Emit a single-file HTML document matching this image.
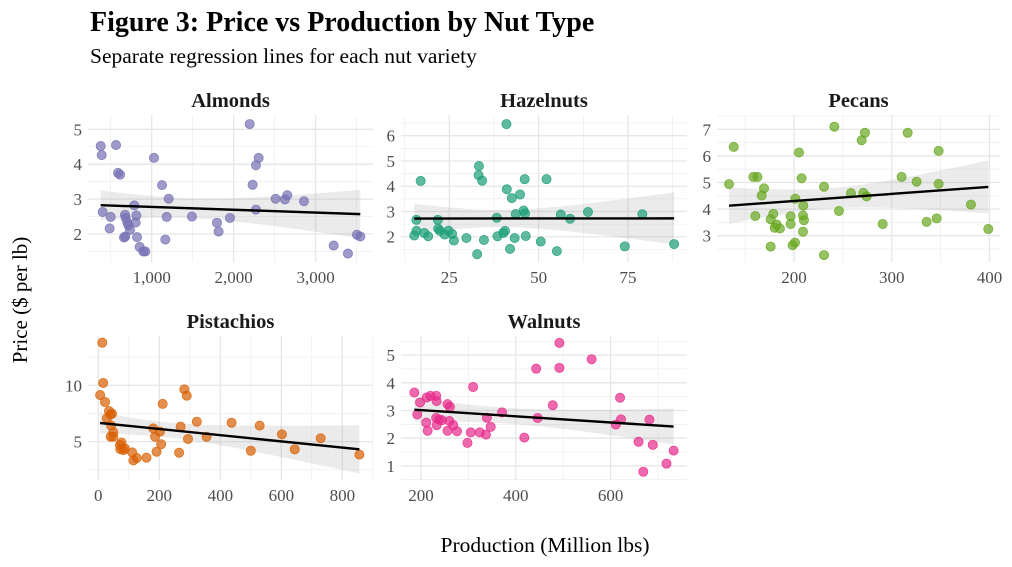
<!DOCTYPE html>
<html><head><meta charset="utf-8"><style>
html,body{margin:0;padding:0;background:#fff;}
svg{display:block;font-family:"Liberation Serif",serif;}
</style></head><body>
<svg id="chart" width="1012" height="567" viewBox="0 0 1012 567">
<text x="90" y="31" font-size="28" font-weight="bold" fill="#000">Figure 3: Price vs Production by Nut Type</text>
<text x="90" y="63" font-size="21.5" fill="#000">Separate regression lines for each nut variety</text>
<text transform="translate(27,300) rotate(-90)" text-anchor="middle" font-size="21" fill="#000">Price ($ per lb)</text>
<text x="545" y="552" text-anchor="middle" font-size="21.5" fill="#000">Production (Million lbs)</text>
</svg>
<script>
const almondsX=[378,390,565,589,614,402,500,487,674,683,703,716,735,662,678,788,813,805,821,853,898,922,1028,1126,1207,1183,1166,1491,1796,1816,1955,2195,2305,2272,2231,2272,2512,2626,2654,2858,3220,3394,3504,3545];
const almondsY=[4.52,4.26,4.55,3.75,3.70,2.63,2.49,2.16,2.55,2.46,2.33,2.25,2.12,1.90,1.93,2.82,2.53,2.33,1.91,1.63,1.50,1.50,4.18,3.40,3.01,2.49,1.84,2.50,2.32,2.07,2.46,5.15,4.18,3.97,3.41,2.70,3.01,2.99,3.11,2.94,1.67,1.44,1.98,1.93];
const hazelX=[15.8,17.0,15.8,15.2,18.0,19.1,21.8,21.9,22.4,23.7,24.8,25.8,26.3,29.8,32.8,33.3,33.2,34.2,34.7,38.3,38.5,40.1,40.6,41.0,41.1,42.0,42.5,43.3,43.6,44.8,45.8,46.2,46.1,46.4,50.6,52.2,55.1,56.2,58.8,63.8,74.1,79.0,87.9];
const hazelY=[2.67,4.21,2.23,2.05,2.15,2.02,2.67,2.32,2.23,2.09,2.24,2.11,1.85,1.95,1.31,4.80,4.44,4.22,1.87,2.75,2.02,2.15,2.23,6.46,3.88,1.52,3.53,1.95,2.90,3.67,3.04,2.92,4.28,2.03,1.81,4.28,1.43,2.88,2.71,2.98,1.62,2.89,1.71];
const pecansX=[133.5,138.3,158.4,162.5,169.3,166.9,160.4,176.1,176.1,178.8,180.2,182.2,185.6,196.5,196.5,198.6,201.0,201.3,205.1,207.8,209.5,209.2,210.2,209.2,230.7,230.7,241.3,246.0,258.3,269.2,272.6,270.9,274.3,290.7,310.1,316.3,325.5,335.7,346.0,348.0,348.0,381.1,398.8];
const pecansY=[4.94,6.34,5.21,5.21,4.78,4.51,3.74,2.59,3.62,3.82,3.30,3.42,3.27,3.73,3.44,2.64,2.74,4.39,6.13,5.16,4.13,3.76,3.58,3.15,4.84,2.27,7.10,3.93,4.60,6.59,6.87,4.61,4.48,3.44,5.21,6.87,5.03,3.52,3.65,6.19,4.95,4.17,3.25];
const pistX=[13,16,6,22,35,40,28,45,42,49,40.5,49,71,76,72,82,87,111,115,126,158,180,186,191,202,206,211,265,270,282,290,294,323,355,437,500,529,602,644,729,856];
const pistY=[13.78,10.20,9.14,8.52,7.72,7.42,7.06,7.48,6.42,5.83,5.44,5.44,4.70,4.93,4.34,4.25,4.40,4.05,3.34,3.55,3.58,6.18,5.44,4.11,5.89,4.77,8.35,4.02,6.33,9.64,9.08,5.24,6.77,5.44,6.68,4.19,6.42,5.65,4.32,5.30,3.85];
const walnutX=[186,192,198,211,214,212,220,232,233,232,233,238,244,256,261,260,256,268,276,298,305,310,324,337,339,347,371,418,443,446,478,492,492,560,611,620,622,659,669,682,689,718,733];
const walnutY=[3.65,2.86,3.29,2.56,2.27,3.47,3.53,3.53,3.34,2.73,2.47,2.67,2.65,3.23,3.13,2.62,2.27,2.47,2.25,1.83,2.21,3.85,2.21,2.13,2.74,2.41,2.93,2.02,4.51,2.73,3.19,5.44,4.54,4.85,2.49,3.46,2.68,1.87,0.79,2.67,1.76,1.08,1.55];

const almondsXTicks=[1000,2000,3000],almondsXLabels=["1,000","2,000","3,000"],almondsYTicks=[2,3,4,5];
const hazelXTicks=[25,50,75],hazelYTicks=[2,3,4,5,6];
const pecansXTicks=[200,300,400],pecansYTicks=[3,4,5,6,7];
const pistXTicks=[0,200,400,600,800],pistYTicks=[5,10];
const walnutXTicks=[200,400,600],walnutYTicks=[1,2,3,4,5];

const NS="http://www.w3.org/2000/svg";
const svg=document.getElementById('chart');
function mk(tag,attrs,parent){const e=document.createElementNS(NS,tag);for(const k in attrs)e.setAttribute(k,attrs[k]);(parent||svg).appendChild(e);return e;}

const panels=[
 {name:'almonds',title:'Almonds',x:almondsX,y:almondsY,xt:almondsXTicks,xl:almondsXLabels,yt:almondsYTicks,px:[88,373],py:[115,262],dx:[223,3700],dy:[1.198,5.41],color:'#7570b3'},
 {name:'hazelnuts',title:'Hazelnuts',x:hazelX,y:hazelY,xt:hazelXTicks,yt:hazelYTicks,px:[401,687],py:[115,262],dx:[11.5,91.5],dy:[1.0,6.82],color:'#1b9e77'},
 {name:'pecans',title:'Pecans',x:pecansX,y:pecansY,xt:pecansXTicks,yt:pecansYTicks,px:[717,1000],py:[115,262],dx:[121.2,410.8],dy:[2.01,7.54],color:'#66a61e'},
 {name:'pistachios',title:'Pistachios',x:pistX,y:pistY,xt:pistXTicks,yt:pistYTicks,px:[88,373],py:[336,480],dx:[-33.8,900.6],dy:[1.6,14.37],color:'#d95f02'},
 {name:'walnuts',title:'Walnuts',x:walnutX,y:walnutY,xt:walnutXTicks,yt:walnutYTicks,px:[401,687],py:[336,480],dx:[157.8,761.2],dy:[0.49,5.69],color:'#e7298a'}
];

panels.forEach(p=>{
 const g=mk('g',{});
 
 
 const sx=v=>p.px[0]+(v-p.dx[0])/(p.dx[1]-p.dx[0])*(p.px[1]-p.px[0]);
 const sy=v=>p.py[1]-(v-p.dy[0])/(p.dy[1]-p.dy[0])*(p.py[1]-p.py[0]);
 const xs=p.xt[1]-p.xt[0], ys=p.yt.length>1?p.yt[1]-p.yt[0]:1;
 for(let v=p.xt[0]-xs/2;v<=p.dx[1];v+=xs){ if(v<p.dx[0])continue;
  const l=mk('line',{x1:sx(v),x2:sx(v),y1:p.py[0],y2:p.py[1],stroke:'#ebebeb','stroke-width':0.6},g);
  }
 for(let v=p.yt[0]-ys/2;v<=p.dy[1];v+=ys){ if(v<p.dy[0])continue;
  const l=mk('line',{x1:p.px[0],x2:p.px[1],y1:sy(v),y2:sy(v),stroke:'#ebebeb','stroke-width':0.6},g);
  }
 p.xt.forEach((v,i)=>{
  const l=mk('line',{x1:sx(v),x2:sx(v),y1:p.py[0],y2:p.py[1],stroke:'#e6e6e6','stroke-width':1.3},g);
  
  const t=mk('text',{x:sx(v),y:p.py[1]+21,'text-anchor':'middle','font-size':17,fill:'#4d4d4d'},g);
  t.textContent=p.xl?p.xl[i]:String(v);
  
 });
 p.yt.forEach(v=>{
  const l=mk('line',{x1:p.px[0],x2:p.px[1],y1:sy(v),y2:sy(v),stroke:'#e6e6e6','stroke-width':1.3},g);
  
  const t=mk('text',{x:p.px[0]-6,y:sy(v)+6,'text-anchor':'end','font-size':17,fill:'#4d4d4d'},g);
  t.textContent=String(v);
  
 });
 const st=mk('text',{x:(p.px[0]+p.px[1])/2,y:p.py[0]-8,'text-anchor':'middle','font-size':20.5,'font-weight':'bold',fill:'#1a1a1a'},g);
 st.textContent=p.title;
 
 const n=p.x.length;let mx=0,my=0;for(let i=0;i<n;i++){mx+=p.x[i];my+=p.y[i];}mx/=n;my/=n;
 let sxx=0,sxy=0;for(let i=0;i<n;i++){sxx+=(p.x[i]-mx)**2;sxy+=(p.x[i]-mx)*(p.y[i]-my);}
 const b=sxy/sxx,a=my-b*mx;let sse=0;for(let i=0;i<n;i++)sse+=(p.y[i]-a-b*p.x[i])**2;
 const s=Math.sqrt(sse/(n-2)),tq=2.02;
 const x0=Math.min(...p.x),x1=Math.max(...p.x);
 const up=[],lo=[];
 for(let k=0;k<=40;k++){const xv=x0+(x1-x0)*k/40;const f=a+b*xv;const se=s*Math.sqrt(1/n+(xv-mx)**2/sxx);
  up.push(sx(xv).toFixed(1)+','+sy(f+tq*se).toFixed(1));lo.unshift(sx(xv).toFixed(1)+','+sy(f-tq*se).toFixed(1));}
 const band=mk('polygon',{points:up.concat(lo).join(' '),fill:'#999999','fill-opacity':0.2},g);
 
 for(let i=0;i<n;i++){
  const c=mk('circle',{cx:sx(p.x[i]),cy:sy(p.y[i]),r:4.6,fill:p.color,'fill-opacity':0.7,stroke:p.color,'stroke-opacity':0.8,'stroke-width':0.8},g);
  
 }
 const rl=mk('line',{x1:sx(x0),y1:sy(a+b*x0),x2:sx(x1),y2:sy(a+b*x1),stroke:'#000','stroke-width':2.4},g);
 
});
</script>
</body></html>
